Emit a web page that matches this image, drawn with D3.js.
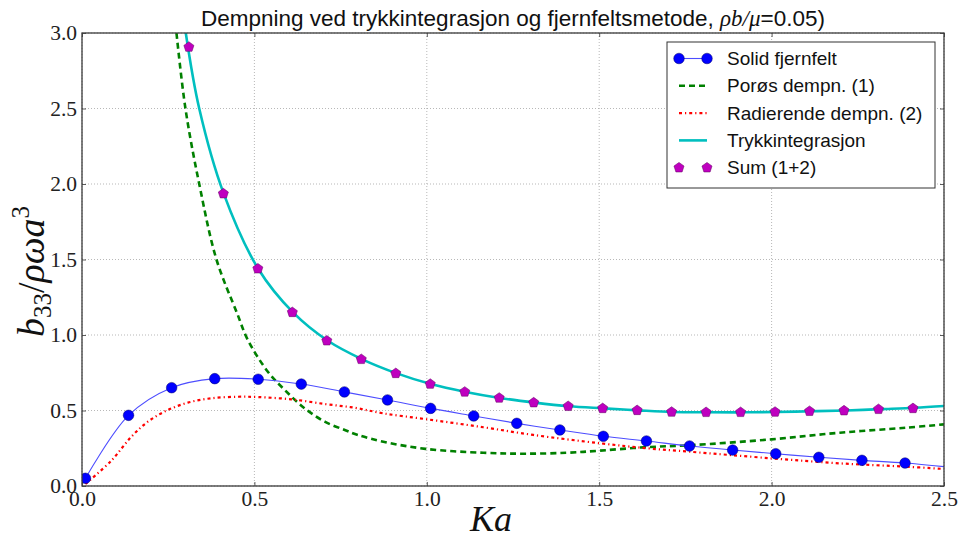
<!DOCTYPE html>
<html>
<head>
<meta charset="utf-8">
<script src="https://cdn.jsdelivr.net/npm/d3@7"></script>
<style>
  html, body { margin: 0; padding: 0; background: #fff; }
  svg { display: block; }
</style>
</head>
<body>
<svg id="chart" width="960" height="541"></svg>
<script>
// Axis ticks
const xTicks = [0.0, 0.5, 1.0, 1.5, 2.0, 2.5];
const yTicks = [0.0, 0.5, 1.0, 1.5, 2.0, 2.5, 3.0];

// Solid fjernfelt (markers and line)
const solidX = [0.010, 0.135, 0.260, 0.385, 0.511, 0.636, 0.761, 0.886, 1.011, 1.136,
                1.261, 1.386, 1.512, 1.637, 1.762, 1.887, 2.012, 2.137, 2.262, 2.387, 2.500];
const solidY = [0.051, 0.468, 0.651, 0.711, 0.707, 0.675, 0.623, 0.570, 0.514, 0.464,
                0.415, 0.371, 0.329, 0.298, 0.265, 0.238, 0.214, 0.190, 0.170, 0.152, 0.128];
const solidMarkerCount = 20;

// Porøs dempning (1)
const porousX = [0.274, 0.300, 0.340, 0.390, 0.450, 0.481, 0.539, 0.588, 0.646, 0.704,
                 0.762, 0.800, 0.874, 1.000, 1.164, 1.280, 1.406, 1.502, 1.628, 1.763,
                 2.000, 2.198, 2.390, 2.500];
const porousY = [3.000, 2.500, 2.000, 1.500, 1.143, 0.967, 0.757, 0.636, 0.514, 0.426,
                 0.371, 0.338, 0.293, 0.245, 0.220, 0.214, 0.220, 0.234, 0.256, 0.270,
                 0.309, 0.353, 0.386, 0.408];

// Radierende dempning (2)
const radX = [0.010, 0.085, 0.143, 0.191, 0.245, 0.307, 0.375, 0.452, 0.510, 0.607,
              0.704, 0.791, 0.874, 1.000, 1.164, 1.309, 1.502, 1.638, 1.763, 2.000,
              2.198, 2.390, 2.500];
const radY = [0.013, 0.168, 0.326, 0.426, 0.499, 0.552, 0.581, 0.591, 0.589, 0.574,
              0.543, 0.518, 0.481, 0.442, 0.389, 0.338, 0.283, 0.250, 0.227, 0.183,
              0.150, 0.128, 0.113];

// Trykkintegrasjon
const pressX = [0.301, 0.340, 0.411, 0.511, 0.612, 0.713, 0.813, 0.913, 1.012, 1.113,
                1.212, 1.313, 1.412, 1.513, 1.613, 1.713, 1.813, 1.913, 2.013, 2.115,
                2.216, 2.314, 2.415, 2.500];
const pressY = [3.000, 2.500, 1.936, 1.439, 1.150, 0.962, 0.839, 0.746, 0.675, 0.623,
                0.583, 0.552, 0.528, 0.514, 0.501, 0.490, 0.488, 0.488, 0.490, 0.495,
                0.500, 0.509, 0.518, 0.530];

// Sum (1+2)
const sumX = [0.31, 0.41, 0.51, 0.61, 0.71, 0.81, 0.91, 1.01, 1.11, 1.21, 1.31,
              1.41, 1.51, 1.61, 1.71, 1.81, 1.91, 2.01, 2.11, 2.21, 2.31, 2.41];
const sumY = [2.907, 1.936, 1.439, 1.150, 0.962, 0.839, 0.746, 0.675, 0.623, 0.583, 0.552,
              0.528, 0.514, 0.501, 0.490, 0.488, 0.488, 0.490, 0.495, 0.499, 0.508, 0.514];

const legendLabels = ["Solid fjernfelt", "Porøs dempn. (1)", "Radierende dempn. (2)",
                      "Trykkintegrasjon", "Sum (1+2)"];

const W = 960, H = 541;
const margin = {top: 33, right: 16, bottom: 55, left: 82};
const iw = W - margin.left - margin.right;
const ih = H - margin.top - margin.bottom;

const svg = d3.select("#chart");
const x = d3.scaleLinear().domain([0, 2.5]).range([0, iw]);
const y = d3.scaleLinear().domain([0, 3.0]).range([ih, 0]);

const g = svg.append("g").attr("transform", `translate(${margin.left},${margin.top})`);

svg.append("defs").append("clipPath").attr("id", "plotclip")
  .append("rect").attr("x", 0).attr("y", 0).attr("width", iw).attr("height", ih);

// dotted grid
const grid = g.append("g").attr("class", "grid");
grid.selectAll("line.gx").data(xTicks).join("line")
  .attr("x1", d => x(d)).attr("x2", d => x(d)).attr("y1", 0).attr("y2", ih)
  .attr("stroke", "#9a9a9a").attr("stroke-width", 0.7).attr("stroke-dasharray", "1,2");
grid.selectAll("line.gy").data(yTicks).join("line")
  .attr("x1", 0).attr("x2", iw).attr("y1", d => y(d)).attr("y2", d => y(d))
  .attr("stroke", "#9a9a9a").attr("stroke-width", 0.7).attr("stroke-dasharray", "1,2");

const zip = (xs, ys) => xs.map((v, i) => [v, ys[i]]);
const lineGen = d3.line().x(d => x(d[0])).y(d => y(d[1])).curve(d3.curveCatmullRom.alpha(0.5));

const plot = g.append("g").attr("clip-path", "url(#plotclip)");

// Porøs dempn. (1)
plot.append("path").datum(zip(porousX, porousY)).attr("d", lineGen)
  .attr("fill", "none").attr("stroke", "#008000").attr("stroke-width", 2.6)
  .attr("stroke-dasharray", "6,4");

// Radierende dempn. (2)
plot.append("path").datum(zip(radX, radY)).attr("d", lineGen)
  .attr("fill", "none").attr("stroke", "#ff0000").attr("stroke-width", 2.2)
  .attr("stroke-dasharray", "3,3,1.2,3");

// Trykkintegrasjon
plot.append("path").datum(zip(pressX, pressY)).attr("d", lineGen)
  .attr("fill", "none").attr("stroke", "#00bfbf").attr("stroke-width", 2.6);

// Solid fjernfelt
plot.append("path").datum(zip(solidX, solidY)).attr("d", lineGen)
  .attr("fill", "none").attr("stroke", "#4d4dff").attr("stroke-width", 1.1);
plot.selectAll("circle.solid").data(zip(solidX, solidY).slice(0, solidMarkerCount)).join("circle")
  .attr("class", "solid")
  .attr("cx", d => x(d[0])).attr("cy", d => y(d[1])).attr("r", 5.3)
  .attr("fill", "#0000ff").attr("stroke", "#000066").attr("stroke-width", 0.5);

// Sum (1+2) pentagon markers
const pentagon = r => {
  const pts = d3.range(5).map(i => {
    const a = -Math.PI / 2 + i * 2 * Math.PI / 5;
    return [r * Math.cos(a), r * Math.sin(a)];
  });
  return "M" + pts.map(p => p.join(",")).join("L") + "Z";
};
plot.selectAll("path.sum").data(zip(sumX, sumY)).join("path")
  .attr("class", "sum")
  .attr("transform", d => `translate(${x(d[0])},${y(d[1])})`)
  .attr("d", pentagon(5.3))
  .attr("fill", "#bf00bf").attr("stroke", "#600060").attr("stroke-width", 0.5);

// axes with inward ticks
const tickFont = "'Liberation Serif', 'DejaVu Serif', serif";
const fmt = d3.format(".1f");
const xAxis = g.append("g").attr("transform", `translate(0,${ih})`)
  .call(d3.axisBottom(x).tickValues(xTicks).tickFormat(fmt).tickSize(-4).tickPadding(5));
const yAxis = g.append("g")
  .call(d3.axisLeft(y).tickValues(yTicks).tickFormat(fmt).tickSize(-4).tickPadding(5));
g.append("g").call(d3.axisTop(x).tickValues(xTicks).tickFormat("").tickSize(-4));
g.append("g").attr("transform", `translate(${iw},0)`)
  .call(d3.axisRight(y).tickValues(yTicks).tickFormat("").tickSize(-4));
g.selectAll(".domain").remove();
g.selectAll(".tick line").attr("stroke", "#333").attr("stroke-width", 0.8);
[xAxis, yAxis].forEach(a => a.selectAll("text")
  .attr("font-family", tickFont).attr("font-size", 21.5).attr("fill", "#222"));

// frame
g.append("rect").attr("x", 0).attr("y", 0).attr("width", iw).attr("height", ih)
  .attr("fill", "none").attr("stroke", "#3a3a3a").attr("stroke-width", 1.3);

// title
const sans = "'Liberation Sans', Arial, sans-serif";
const mathFont = "'Liberation Serif', 'DejaVu Serif', serif";
const title = svg.append("text").attr("x", margin.left + iw / 2).attr("y", 26)
  .attr("text-anchor", "middle").attr("font-family", sans).attr("font-size", 22.5).attr("fill", "#111");
title.append("tspan").text("Dempning ved trykkintegrasjon og fjernfeltsmetode, ");
title.append("tspan").attr("font-family", mathFont).attr("font-style", "italic").attr("font-size", 23).text("ρb/μ");
title.append("tspan").text("=0.05)");

// x label
svg.append("text").attr("x", margin.left + iw / 2 - 22).attr("y", 531)
  .attr("text-anchor", "middle").attr("font-family", mathFont).attr("font-style", "italic")
  .attr("font-size", 36).attr("fill", "#111").text("Ka");

// y label
const yl = svg.append("text").attr("transform", `translate(44,${margin.top + ih / 2 + 12}) rotate(-90)`)
  .attr("text-anchor", "middle").attr("font-family", mathFont).attr("font-size", 38).attr("fill", "#111");
yl.append("tspan").attr("font-style", "italic").text("b");
yl.append("tspan").attr("font-size", 25).attr("dy", 7).text("33");
yl.append("tspan").attr("dy", -7).text("/");
yl.append("tspan").attr("font-style", "italic").text("ρωa");
yl.append("tspan").attr("font-size", 25).attr("dy", -15).text("3");

// legend
const lg = svg.append("g").attr("transform", "translate(667,42)");
lg.append("rect").attr("x", 0).attr("y", 0).attr("width", 268).attr("height", 146)
  .attr("fill", "#fff").attr("stroke", "#333").attr("stroke-width", 1);
const rowY = i => 16.5 + i * 27.3;
const hx0 = 12, hx1 = 40, tx = 60;
legendLabels.forEach((lab, i) => {
  const row = lg.append("g").attr("transform", `translate(0,${rowY(i)})`);
  if (i === 0) {
    row.append("line").attr("x1", hx0).attr("x2", hx1).attr("stroke", "#4d4dff").attr("stroke-width", 1.1);
    [hx0, hx1].forEach(cx => row.append("circle").attr("cx", cx).attr("r", 5.3)
      .attr("fill", "#0000ff").attr("stroke", "#000066").attr("stroke-width", 0.5));
  } else if (i === 1) {
    row.append("line").attr("x1", hx0).attr("x2", hx1).attr("stroke", "#008000")
      .attr("stroke-width", 2.6).attr("stroke-dasharray", "6,4");
  } else if (i === 2) {
    row.append("line").attr("x1", hx0).attr("x2", hx1).attr("stroke", "#ff0000")
      .attr("stroke-width", 2.2).attr("stroke-dasharray", "3,3,1.2,3");
  } else if (i === 3) {
    row.append("line").attr("x1", hx0).attr("x2", hx1).attr("stroke", "#00bfbf").attr("stroke-width", 2.6);
  } else {
    [hx0, hx1].forEach(cx => row.append("path").attr("transform", `translate(${cx},0)`)
      .attr("d", pentagon(5.3)).attr("fill", "#bf00bf").attr("stroke", "#600060").attr("stroke-width", 0.5));
  }
  row.append("text").attr("x", tx).attr("y", 0).attr("dy", "0.35em")
    .attr("font-family", sans).attr("font-size", 19).attr("fill", "#111").text(lab);
});
</script>
</body>
</html>
